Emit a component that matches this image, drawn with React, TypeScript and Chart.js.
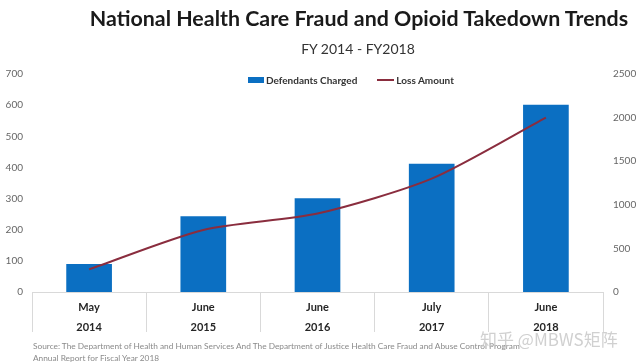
import React, { useEffect, useRef } from "react";
import { Chart, registerables } from "chart.js";

Chart.register(...registerables);

const categories: string[][] = [
  ["May", "2014"],
  ["June", "2015"],
  ["June", "2016"],
  ["July", "2017"],
  ["June", "2018"],
];
const defendantsCharged = [90, 243, 301, 412, 601];
const lossAmount = [260, 712, 900, 1300, 2000];
const leftMax = 700;
const leftStep = 100;
const rightMax = 2500;
const rightStep = 500;

const titleText = "National Health Care Fraud and Opioid Takedown Trends";
const subtitleText = "FY 2014 - FY2018";
const sourceLine1 =
  "Source:  The Department of Health and Human Services And The Department of Justice Health Care Fraud and Abuse Control Program";
const sourceLine2 = "Annual Report for Fiscal Year 2018";
const watermark = "知乎 @MBWS矩阵";

const BAR_COLOR = "#0B6FC2";
const LINE_COLOR = "#8A2D3E";
const FONT = "Lato, 'Open Sans', sans-serif";

export default function App() {
  const ref = useRef<HTMLCanvasElement | null>(null);

  useEffect(() => {
    document.body.style.margin = "0";
    const canvas = ref.current;
    if (!canvas) return;
    const chart = new Chart(canvas, {
      type: "bar",
      data: {
        labels: categories,
        datasets: [
          {
            type: "line",
            label: "Loss Amount",
            data: lossAmount,
            yAxisID: "y1",
            borderColor: LINE_COLOR,
            backgroundColor: LINE_COLOR,
            borderWidth: 2,
            pointRadius: 0,
            tension: 0.25,
            order: 0,
          } as any,
          {
            type: "bar",
            label: "Defendants Charged",
            data: defendantsCharged,
            yAxisID: "y",
            backgroundColor: BAR_COLOR,
            barPercentage: 0.4,
            categoryPercentage: 1,
            order: 1,
          } as any,
        ],
      },
      options: {
        responsive: false,
        animation: false,
        devicePixelRatio: 1,
        layout: { padding: { top: 74, left: 0, right: 0, bottom: 0 } },
        plugins: {
          legend: { display: false },
          title: { display: false },
          tooltip: { enabled: false },
        },
        scales: {
          x: {
            offset: true,
            grid: {
              display: true,
              drawOnChartArea: false,
              drawTicks: true,
              tickLength: 40,
              color: "#D9D9D9",
              offset: true,
            },
            border: { display: true, color: "#D9D9D9" },
            ticks: {
              font: { family: FONT, size: 11, weight: "bold", lineHeight: 1.8 },
              color: "#262626",
              padding: -34,
              maxRotation: 0,
              autoSkip: false,
            },
            afterFit: (s: any) => {
              s.height = 72;
            },
          },
          y: {
            position: "left",
            min: 0,
            max: leftMax,
            grid: { display: false, drawTicks: false },
            border: { display: false },
            ticks: {
              stepSize: leftStep,
              font: { family: FONT, size: 10 },
              color: "#666666",
              padding: 9,
              callback: (v: any) => String(v),
            },
            afterFit: (s: any) => {
              s.width = 32;
            },
          },
          y1: {
            position: "right",
            min: 0,
            max: rightMax,
            grid: { display: false, drawTicks: false },
            border: { display: false },
            ticks: {
              stepSize: rightStep,
              font: { family: FONT, size: 10 },
              color: "#666666",
              padding: 10,
              callback: (v: any) => String(v),
            },
            afterFit: (s: any) => {
              s.width = 37;
            },
          },
        },
      } as any,
    });
    return () => chart.destroy();
  }, []);

  const abs = (style: React.CSSProperties): React.CSSProperties => ({
    position: "absolute",
    whiteSpace: "nowrap",
    fontFamily: FONT,
    ...style,
  });

  return (
    <div style={{ position: "relative", width: 640, height: 364, background: "#fff", overflow: "hidden" }}>
      <canvas ref={ref} width={640} height={364} style={{ display: "block" }} />
      <div style={abs({ left: 60, width: 598, top: 5, textAlign: "center", fontSize: 21.4, fontWeight: 700, color: "#1a1a1a" })}>
        {titleText}
      </div>
      <div style={abs({ left: 200, width: 316, top: 40, textAlign: "center", fontSize: 14, color: "#333" })}>
        {subtitleText}
      </div>
      <div style={abs({ left: 248, top: 74, fontSize: 10, fontWeight: 700, color: "#333", display: "flex", alignItems: "center" })}>
        <span style={{ display: "inline-block", width: 16, height: 6, background: BAR_COLOR, marginRight: 2 }} />
        <span>Defendants Charged</span>
        <span style={{ display: "inline-block", width: 17, height: 2, background: LINE_COLOR, marginLeft: 20, marginRight: 2 }} />
        <span>Loss Amount</span>
      </div>
      <div style={abs({ left: 33, top: 340, fontSize: 8.3, color: "#8a8a8a", lineHeight: "12px" })}>
        {sourceLine1}
        <br />
        {sourceLine2}
      </div>
      <div style={abs({ left: 480, top: 326, fontSize: 17, color: "rgba(200,200,200,0.85)", fontFamily: "'Noto Sans CJK SC', sans-serif" })}>
        {watermark}
      </div>
    </div>
  );
}
